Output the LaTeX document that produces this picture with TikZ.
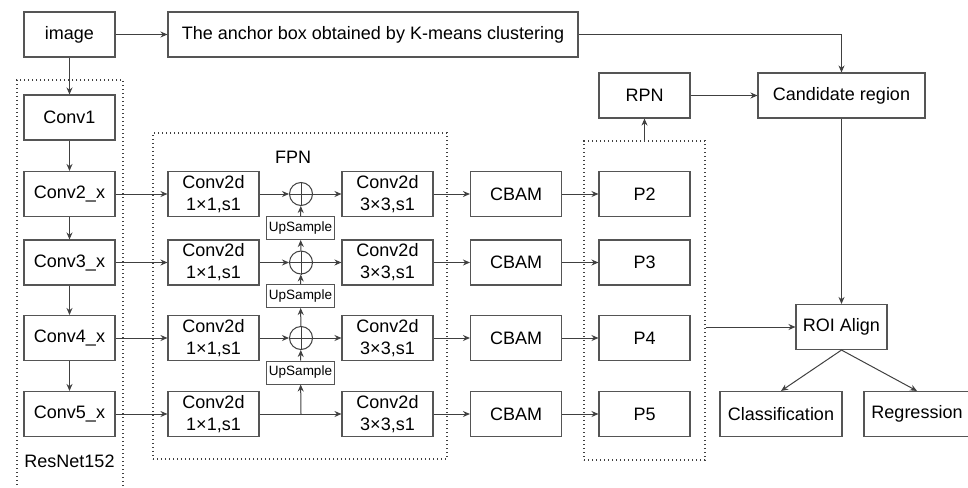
\documentclass[tikz,border=0pt]{standalone}
\usepackage{fontspec}
\setmainfont{Liberation Sans}
\usetikzlibrary{arrows.meta}
\definecolor{edge}{HTML}{404040}
\definecolor{boxline}{HTML}{555555}
\begin{document}
\begin{tikzpicture}[x=0.5pt,y=-0.5pt,
  box/.style={draw=boxline, line width=0.55pt, minimum width=45.5pt, minimum height=22.5pt,
              inner sep=1pt, align=center, font=\fontsize{9}{11}\selectfont},
  usbox/.style={draw=boxline, line width=0.5pt, minimum width=34pt, minimum height=11.5pt,
              inner sep=0.5pt, font=\fontsize{6.75}{8}\selectfont},
  sumnode/.style={circle, draw=edge, line width=0.5pt, minimum size=11.5pt, inner sep=0pt},
  grp/.style={draw=edge, line width=0.6pt, dash pattern=on 0.6pt off 1.4pt, inner sep=0pt},
  arr/.style={draw=edge, line width=0.5pt, -{Stealth[length=3.5pt,width=3pt]}},
  ln/.style={draw=edge, line width=0.5pt},
  lbl/.style={font=\fontsize{9}{11}\selectfont, inner sep=0pt}]
\useasboundingbox (0,0) rectangle (968,487);

% dotted groups
\node[grp, minimum width=53pt, minimum height=220pt] (resgrp) at (70,300) {};
\node[grp, minimum width=147pt, minimum height=163pt] (fpngrp) at (300,296) {};
\node[grp, minimum width=60.5pt, minimum height=159.5pt] (pgrp) at (644.5,300.5) {};
\node[lbl] (fpnlbl) at (293,157) {FPN};
\node[lbl] (reslbl) at (69.5,461) {ResNet152};

% top row
\node[box] (img) at (69.5,34.5) {image};
\node[box, minimum width=205pt] (anchor) at (373,34.5) {The anchor box obtained by K-means clustering};

% backbone
\node[box] (conv1) at (69.5,117.5) {Conv1};
\node[box] (c2) at (69.5,194) {Conv2\_x};
\node[box] (c3) at (69.5,262.5) {Conv3\_x};
\node[box] (c4) at (69.5,338) {Conv4\_x};
\node[box] (c5) at (69.5,414) {Conv5\_x};

% FPN lateral convs
\node[box] (a1) at (213.5,194) {Conv2d\\1×1,s1};
\node[box] (a2) at (213.5,262.5) {Conv2d\\1×1,s1};
\node[box] (a3) at (213.5,338) {Conv2d\\1×1,s1};
\node[box] (a4) at (213.5,414) {Conv2d\\1×1,s1};

% sums and upsampling
\node[sumnode] (s1) at (301,194) {};
\node[sumnode] (s2) at (301,262.5) {};
\node[sumnode] (s3) at (301,338) {};
\node[usbox] (u1) at (300.5,228) {UpSample};
\node[usbox] (u2) at (300.5,296) {UpSample};
\node[usbox] (u3) at (300.5,372.5) {UpSample};
\coordinate (j4) at (301,414);

% FPN output convs
\node[box] (b1) at (387.5,194) {Conv2d\\3×3,s1};
\node[box] (b2) at (387.5,262.5) {Conv2d\\3×3,s1};
\node[box] (b3) at (387.5,338) {Conv2d\\3×3,s1};
\node[box] (b4) at (387.5,414) {Conv2d\\3×3,s1};

% attention
\node[box] (m1) at (516,194) {CBAM};
\node[box] (m2) at (516,262.5) {CBAM};
\node[box] (m3) at (516,338) {CBAM};
\node[box] (m4) at (516,414) {CBAM};

% pyramid levels
\node[box] (p2) at (644.5,194) {P2};
\node[box] (p3) at (644.5,262.5) {P3};
\node[box] (p4) at (644.5,338) {P4};
\node[box] (p5) at (644.5,414) {P5};

% detection head
\node[box] (rpn) at (644.5,95.5) {RPN};
\node[box, minimum width=83.5pt] (cand) at (841.5,95.5) {Candidate region};
\node[box] (roi) at (841.5,327) {ROI Align};
\node[box, minimum width=61pt] (cls) at (781,414) {Classification};
\node[box, minimum width=53pt] (reg) at (917,414) {Regression};

% connectors
\draw[arr] (img) -- (anchor);
\draw[arr] (anchor.east) -| (cand.north);
\draw[arr] (img) -- (conv1);
\draw[arr] (conv1) -- (c2);
\draw[arr] (c2) -- (c3);
\draw[arr] (c3) -- (c4);
\draw[arr] (c4) -- (c5);

\draw[arr] (c2) -- (a1);
\draw[arr] (c3) -- (a2);
\draw[arr] (c4) -- (a3);
\draw[arr] (c5) -- (a4);

\draw[arr] (a1) -- (s1);
\draw[arr] (a2) -- (s2);
\draw[arr] (a3) -- (s3);
\draw[arr] (s1) -- (b1);
\draw[arr] (s2) -- (b2);
\draw[arr] (s3) -- (b3);
\draw[arr] (a4) -- (b4);

\foreach \s in {s1,s2,s3}
  \draw[ln] (\s.north) -- (\s.south) (\s.west) -- (\s.east);

\draw[arr] (u1) -- (s1);
\draw[arr] (u2) -- (s2);
\draw[arr] (u3) -- (s3);
\draw[arr] (s2) -- (u1);
\draw[arr] (s3) -- (u2);
\draw[arr] (j4) -- (u3);

\draw[arr] (b1) -- (m1);
\draw[arr] (b2) -- (m2);
\draw[arr] (b3) -- (m3);
\draw[arr] (b4) -- (m4);
\draw[arr] (m1) -- (p2);
\draw[arr] (m2) -- (p3);
\draw[arr] (m3) -- (p4);
\draw[arr] (m4) -- (p5);

\draw[arr] (pgrp.north) -- (rpn);
\draw[arr] (rpn) -- (cand);
\draw[arr] (cand) -- (roi);
\draw[arr] (pgrp.east |- roi.west) -- (roi.west);
\draw[arr] (roi.south) -- (cls.north);
\draw[arr] (roi.south) -- (reg.north);
\end{tikzpicture}
\end{document}
